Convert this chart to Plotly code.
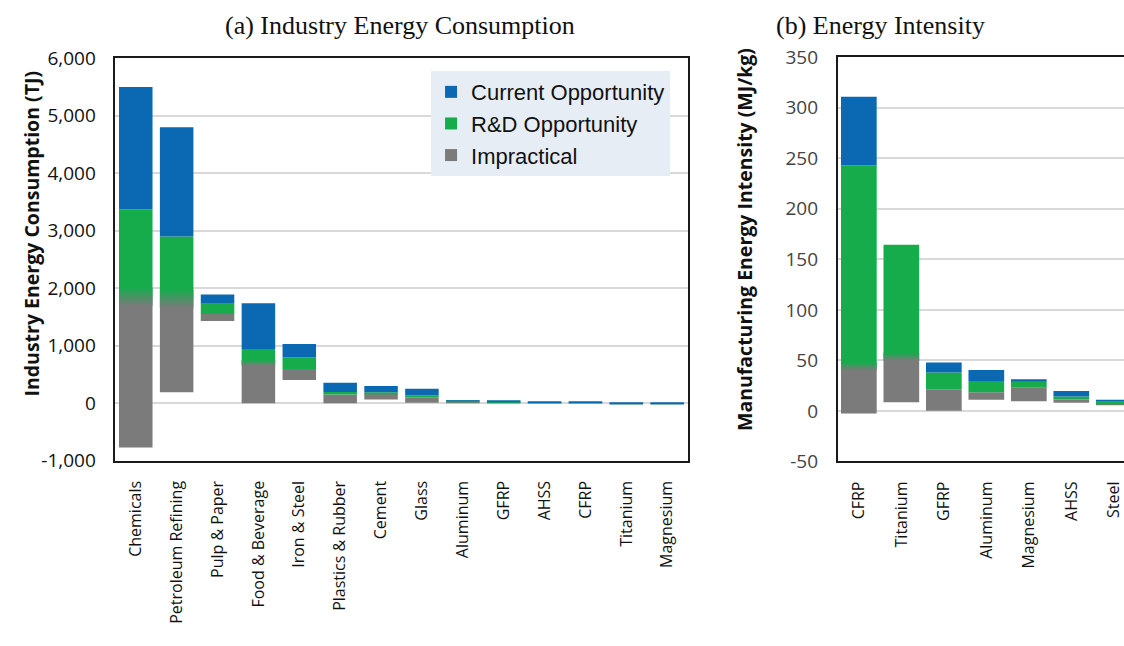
import plotly.graph_objects as go

# ---- (a) Industry energy consumption, TJ ----
industries = ["Chemicals", "Petroleum Refining", "Pulp & Paper", "Food & Beverage",
              "Iron & Steel", "Plastics & Rubber", "Cement", "Glass", "Aluminum",
              "GFRP", "AHSS", "CFRP", "Titanium", "Magnesium"]
ind_low = [-770, 190, 1430, 0, 405, 0, 65, 10, 10, 0, 2, 0, -8, -8]
ind_impractical_top = [1850, 1820, 1550, 700, 595, 150, 162, 104, 25, 5, 5, 2, -7, -7]
ind_rd_top = [3370, 2900, 1730, 945, 795, 197, 191, 139, 38, 20, 12, 15, -6, -6]
ind_current_top = [5500, 4800, 1890, 1740, 1030, 355, 300, 250, 47, 35, 22, 18, 2, 0]
# half-height of the soft grey-to-green transition (0 = sharp edge)
ind_blend = [160, 160, 0, 50, 0, 0, 0, 0, 0, 0, 0, 0, 0, 0]
ind_ticks = [-1000, 0, 1000, 2000, 3000, 4000, 5000, 6000]

# ---- (b) Manufacturing energy intensity, MJ/kg ----
materials = ["CFRP", "Titanium", "GFRP", "Aluminum", "Magnesium", "AHSS", "Steel"]
mat_low = [-2.5, 8.5, 0, 11, 9.5, 8, 5.6]
mat_impractical_top = [44, 53.5, 21.5, 18.5, 23, 11.2, 6.6]
mat_rd_top = [243, 164.5, 38, 29.5, 29.5, 14.3, 8.9]
mat_current_top = [311, 164.5, 48, 40.5, 30.5, 19.7, 10.9]
mat_blend = [4, 4, 0, 0, 0, 0, 0]
mat_ticks = [-50, 0, 50, 100, 150, 200, 250, 300, 350]

BLUE = "#0B69B3"
GREEN = "#16AC4C"
GRAY = "#7B7B7B"
TICK_FONT = "Open Sans"

fig = go.Figure()


def add_stack(cats, low, imp_top, rd_top, cur_top, blend, xaxis, yaxis, blend_xaxis,
              width, legend):
    segments = [
        ("Impractical", GRAY, low, imp_top),
        ("R&D Opportunity", GREEN, imp_top, rd_top),
        ("Current Opportunity", BLUE, rd_top, cur_top),
    ]
    for name, color, lo, hi in segments:
        fig.add_trace(go.Bar(
            x=cats,
            y=[h - l for l, h in zip(lo, hi)],
            base=lo,
            name=name,
            marker=dict(color=color, line=dict(width=0)),
            width=width,
            xaxis=xaxis, yaxis=yaxis,
            showlegend=legend,
            legendrank={"Current Opportunity": 1, "R&D Opportunity": 2, "Impractical": 3}[name],
            hoverinfo="skip",
        ))
    # soft transition band between the grey and green segments
    for i, (edge, half) in enumerate(zip(imp_top, blend)):
        if not half:
            continue
        x0, x1 = i - width / 2, i + width / 2
        y0, y1 = edge - half, edge + half
        fig.add_trace(go.Scatter(
            x=[x0, x1, x1, x0, x0], y=[y0, y0, y1, y1, y0],
            mode="lines", fill="toself", line=dict(width=0),
            fillgradient=dict(type="vertical", colorscale=[[0, GRAY], [1, GREEN]]),
            xaxis=blend_xaxis, yaxis=yaxis, showlegend=False, hoverinfo="skip",
        ))


add_stack(industries, ind_low, ind_impractical_top, ind_rd_top, ind_current_top,
          ind_blend, "x", "y", "x3", 0.82, True)
add_stack(materials, mat_low, mat_impractical_top, mat_rd_top, mat_current_top,
          mat_blend, "x2", "y2", "x4", 0.84, False)

axis_common = dict(showline=True, mirror=True, linecolor="#1a1a1a", linewidth=1.5,
                   automargin=False)

LEFT_DOM = [0.1026, 0.6118]
RIGHT_DOM = [0.7452, 1.0]
RIGHT_XRANGE = [-0.5, 6.24]

fig.update_layout(
    width=1124, height=646,
    autosize=False,
    margin=dict(l=0, r=0, t=0, b=0, autoexpand=False),
    paper_bgcolor="white", plot_bgcolor="white",
    barmode="overlay",
    xaxis=dict(domain=LEFT_DOM, anchor="y", type="category",
               tickangle=-90, ticks="", ticklabelstandoff=12,
               tickfont=dict(family=TICK_FONT, size=16, color="#111"),
               **axis_common),
    yaxis=dict(domain=[0.2868, 0.9098], anchor="x", range=[-1000, 6000],
               tickvals=ind_ticks, ticktext=[f"{v:,}" for v in ind_ticks],
               showgrid=True, gridcolor="#D9D9D9", gridwidth=1.5,
               zeroline=False, ticks="", ticklabelstandoff=14,
               tickfont=dict(family=TICK_FONT, size=19, color="#111"),
               **axis_common),
    xaxis2=dict(domain=RIGHT_DOM, anchor="y2", type="category",
                range=RIGHT_XRANGE, tickangle=-90, ticks="", ticklabelstandoff=12,
                tickfont=dict(family=TICK_FONT, size=16, color="#111"),
                **axis_common),
    yaxis2=dict(domain=[0.2858, 0.9113], anchor="x2", range=[-50, 350],
                tickvals=mat_ticks, ticktext=[str(v) for v in mat_ticks],
                showgrid=True, gridcolor="#D9D9D9", gridwidth=1.5,
                zeroline=False, ticks="", ticklabelstandoff=14,
                tickfont=dict(family=TICK_FONT, size=19, color="#444"),
                **axis_common),
    xaxis3=dict(domain=LEFT_DOM, overlaying="x", anchor="y", range=[-0.5, 13.5],
                visible=False, automargin=False),
    xaxis4=dict(domain=RIGHT_DOM, overlaying="x2", anchor="y2", range=RIGHT_XRANGE,
                visible=False, automargin=False),
    legend=dict(x=0.3835, y=0.89, xanchor="left", yanchor="top",
                bgcolor="#E7EDF5", borderwidth=0,
                font=dict(family="Liberation Sans", size=22, color="#111"),
                itemsizing="constant", tracegroupgap=0),
    annotations=[
        dict(text="(a) Industry Energy Consumption", x=400 / 1124, y=1 - 25 / 646,
             xref="paper", yref="paper", showarrow=False, yanchor="middle",
             font=dict(family="Liberation Serif", size=26, color="#111")),
        dict(text="(b) Energy Intensity", x=987 / 1124, y=1 - 25 / 646,
             xref="paper", yref="paper", showarrow=False, yanchor="middle",
             font=dict(family="Liberation Serif", size=26, color="#111")),
        dict(text="<b>Industry Energy Consumption (TJ)</b>", textangle=-90,
             x=16 / 1124, y=1 - 234 / 646, xref="paper", yref="paper", showarrow=False,
             font=dict(family=TICK_FONT, size=19.5, color="#111")),
        dict(text="<b>Manufacturing Energy Intensity (MJ/kg)</b>", textangle=-90,
             x=744 / 1124, y=1 - 240 / 646, xref="paper", yref="paper", showarrow=False,
             font=dict(family=TICK_FONT, size=19.5, color="#111")),
    ],
)

fig.write_html("out.html")
